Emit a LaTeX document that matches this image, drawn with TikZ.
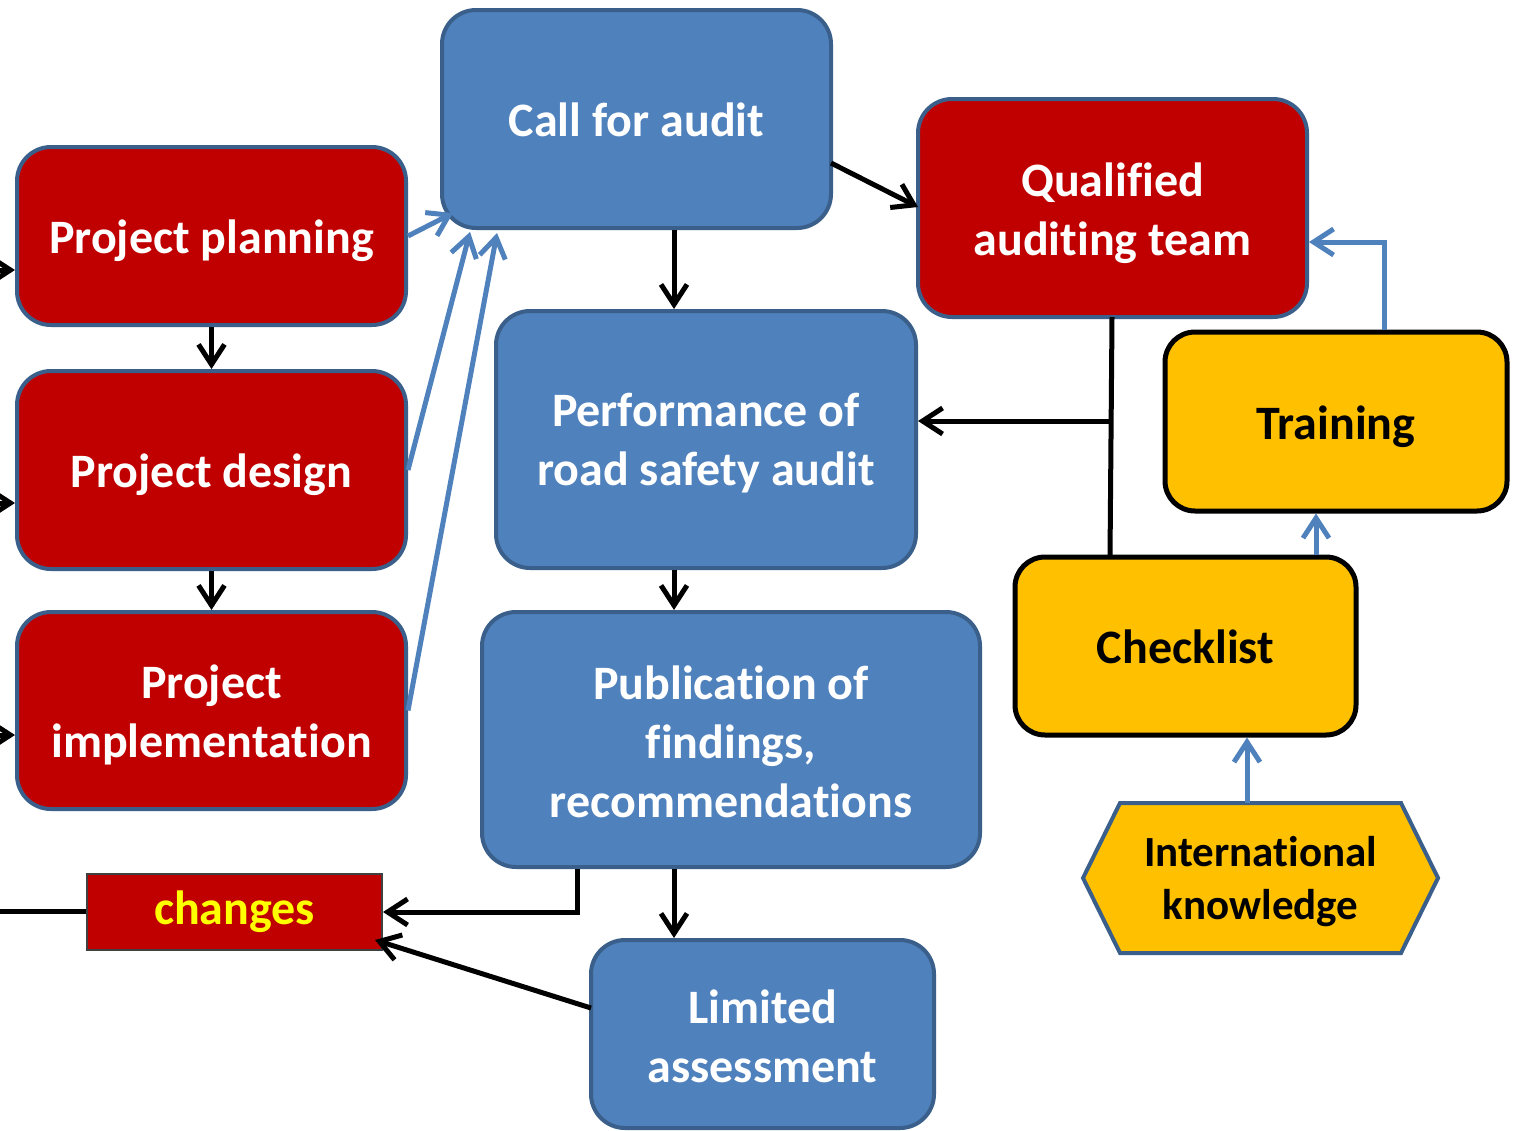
\documentclass[tikz,border=0pt]{standalone}
\usepackage{fontspec}
\setmainfont[Ligatures=NoCommon]{Carlito}
\usetikzlibrary{arrows.meta,calc}
\newcommand{\nolig}{\kern0pt{}}
\definecolor{cred}{HTML}{C00000}
\definecolor{cblue}{HTML}{4F81BD}
\definecolor{cborder}{HTML}{3A5F8B}
\definecolor{cyellow}{HTML}{FFC000}
\definecolor{ctextyellow}{HTML}{FFFF00}
\tikzset{
  txt/.style={align=center, inner sep=0pt, font=\bfseries\fontsize{24}{29.5}\selectfont},
  base/.style={rectangle, rounded corners=17pt, line width=2pt, inner sep=0pt},
  redbox/.style={base, fill=cred, draw=cborder},
  bluebox/.style={base, fill=cblue, draw=cborder},
  yellowbox/.style={base, rounded corners=15pt, fill=cyellow, draw=black, line width=2.5pt},
  wt/.style={txt, text=white},
  bt/.style={txt, text=black},
  conn/.style={line width=2.5pt, draw=black},
  arr/.style={conn, -{Straight Barb[length=10pt,width=13pt,line width=2.5pt]}},
  barr/.style={arr, draw=cblue},
}
\begin{document}
\begin{tikzpicture}[x=0.5pt,y=-0.5pt]
\useasboundingbox[fill=white] (0,0) rectangle (1514,1130);

% boxes
\node[bluebox, minimum width=194.5pt, minimum height=109pt,
  label={[wt, yshift=-0.5pt]center:Call for audit}] (call) at (636.5,119) {};
\node[redbox, minimum width=194.5pt, minimum height=89pt,
  label={[wt, yshift=-2.5pt]center:Project planning}] (plan) at (211.5,236) {};
\node[redbox, minimum width=194.5pt, minimum height=99pt,
  label={[wt, yshift=-2.5pt]center:Project design}] (design) at (211.5,470) {};
\node[redbox, minimum width=194.5pt, minimum height=98.5pt,
  label={[wt, yshift=-2pt]center:{Project\\implementat\nolig ion}}] (impl) at (211.5,710.5) {};
\node[redbox, minimum width=194.5pt, minimum height=109pt,
  label={[wt, yshift=-2.5pt]center:{Qualif\nolig ied\\audit\nolig ing team}}] (qual) at (1112.5,208) {};
\node[bluebox, minimum width=210pt, minimum height=128.5pt,
  label={[wt, yshift=-2pt]center:{Performance of\\road safety audit}}] (perf) at (706,439.5) {};
\node[bluebox, minimum width=249pt, minimum height=127.5pt,
  label={[wt, yshift=-1pt]center:{Publicat\nolig ion of\\f\nolig indings,\\recommendat\nolig ions}}] (pub) at (731,739.5) {};
\node[bluebox, minimum width=171.5pt, minimum height=94pt,
  label={[wt, yshift=-1pt]center:{Limited\\assessment}}] (lim) at (762.5,1034) {};
\node[yellowbox, minimum width=171pt, minimum height=89.5pt,
  label={[bt, yshift=-2.5pt]center:Training}] (train) at (1336,421.5) {};
\node[yellowbox, minimum width=170.5pt, minimum height=89pt,
  label={[bt, yshift=-0.5pt]center:Checklist}] (check) at (1185.5,646) {};
\node[rectangle, fill=cred, draw=black!75, line width=1pt, minimum width=147.5pt, minimum height=38pt,
      inner sep=0pt, text=ctextyellow, font=\bfseries\fontsize{24}{29.5}\selectfont] (chg) at (234.5,912) {changes};

% hexagon
\draw[fill=cyellow, draw=cborder, line width=2pt, line join=miter]
  (1083,878) -- (1120,803) -- (1401,803) -- (1438,878) -- (1401,953) -- (1120,953) -- cycle;
\node[align=center, inner sep=0pt, font=\bfseries\fontsize{21.5}{26.5}\selectfont] (intl) at (1260.5,882) {Internat\nolig ional\\knowledge};
\coordinate (intltop) at (1247,803);

% left stubs
\coordinate (lp) at (0,270);
\coordinate (ld) at (0,503);
\coordinate (li) at (0,735);
\coordinate (lc) at (0,911);
\draw[arr] (lp) -- (lp -| plan.west);
\draw[arr] (ld) -- (ld -| design.west);
\draw[arr] (li) -- (li -| impl.west);
\draw[conn] (chg.west |- lc) -- (lc);

% red column
\draw[arr] (plan.south) -- (design.north);
\draw[arr] (design.south) -- (design.south |- impl.north);

% blue arrows to call
\coordinate (c1) at (453,213);
\coordinate (c2) at (470,232);
\coordinate (c3) at (497,233);
\draw[barr] (plan.east) -- (c1);
\draw[barr] (design.east) -- (c2);
\draw[barr] (impl.east) -- (c3);

% call connectors
\coordinate (cq1) at (831,163);
\coordinate (cq2) at (918,207);
\draw[arr] (cq1) -- (cq2);
\coordinate (mx) at (674,0);
\draw[arr] (mx |- call.south) -- (mx |- perf.north);
\draw[arr] (mx |- perf.south) -- (mx |- pub.north);
\draw[arr] (mx |- pub.south) -- (mx |- lim.north);

% to changes
\coordinate (pc) at (577,912);
\draw[arr] (pc |- pub.south) -- (pc) -- (chg.east |- pc);
\coordinate (lc1) at (591,1008);
\coordinate (lc2) at (375,940);
\draw[arr] (lc1) -- (lc2);

% qualified / checklist
\coordinate (qx) at (1111,421);
\draw[conn] (1112,317) -- (1110,557);
\draw[arr] (qx) -- (qx -| perf.east);

% yellow links
\coordinate (tq) at (1384,242);
\draw[barr] (tq |- train.north) -- (tq) -- (qual.east |- tq);
\coordinate (ct) at (1316,0);
\draw[barr] (ct |- check.north) -- (ct |- train.south);
\draw[barr] (intltop) -- (intltop |- check.south);
\end{tikzpicture}
\end{document}
